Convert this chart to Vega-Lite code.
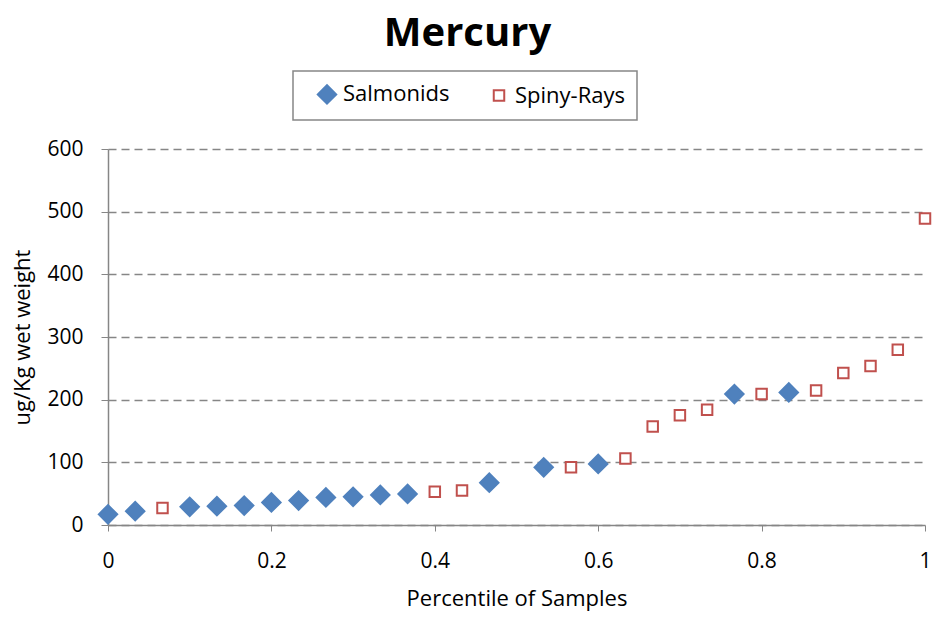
{
  "$schema": "https://vega.github.io/schema/vega-lite/v6.json",
  "width": 817,
  "height": 376,
  "autosize": "none",
  "padding": {"left": 108, "top": 149, "right": 9, "bottom": 94},
  "background": "white",
  "title": {
    "text": "Mercury",
    "fontSize": 40,
    "font": "Open Sans",
    "fontWeight": "bold",
    "color": "black",
    "anchor": "middle",
    "frame": "group",
    "dx": -49,
    "offset": 16
  },
  "config": {
    "view": {"stroke": null},
    "font": "Open Sans",
    "legend": {
      "orient": "none",
      "legendX": 185,
      "legendY": -78,
      "direction": "horizontal",
      "strokeColor": "#868686",
      "strokeWidth": 1.5,
      "padding": 12,
      "symbolOffset": 11,
      "labelFontSize": 22,
      "labelFont": "Open Sans",
      "labelColor": "black",
      "columnPadding": 27,
      "symbolOpacity": 1,
      "symbolStrokeWidth": 2,
      "labelOffset": 5
    }
  },
  "data": {
    "values": [
      {"p": 0.0, "v": 17, "s": "Salmonids"},
      {"p": 0.0333, "v": 22, "s": "Salmonids"},
      {"p": 0.0667, "v": 27, "s": "Spiny-Rays"},
      {"p": 0.1, "v": 29, "s": "Salmonids"},
      {"p": 0.1333, "v": 30, "s": "Salmonids"},
      {"p": 0.1667, "v": 31, "s": "Salmonids"},
      {"p": 0.2, "v": 36, "s": "Salmonids"},
      {"p": 0.2333, "v": 39, "s": "Salmonids"},
      {"p": 0.2667, "v": 44, "s": "Salmonids"},
      {"p": 0.3, "v": 45, "s": "Salmonids"},
      {"p": 0.3333, "v": 48, "s": "Salmonids"},
      {"p": 0.3667, "v": 49.5, "s": "Salmonids"},
      {"p": 0.4, "v": 53, "s": "Spiny-Rays"},
      {"p": 0.4333, "v": 55, "s": "Spiny-Rays"},
      {"p": 0.4667, "v": 67.5, "s": "Salmonids"},
      {"p": 0.5333, "v": 92, "s": "Salmonids"},
      {"p": 0.5667, "v": 92, "s": "Spiny-Rays"},
      {"p": 0.6, "v": 97.5, "s": "Salmonids"},
      {"p": 0.6333, "v": 106, "s": "Spiny-Rays"},
      {"p": 0.6667, "v": 157, "s": "Spiny-Rays"},
      {"p": 0.7, "v": 175, "s": "Spiny-Rays"},
      {"p": 0.7333, "v": 184, "s": "Spiny-Rays"},
      {"p": 0.7667, "v": 209, "s": "Salmonids"},
      {"p": 0.8, "v": 209, "s": "Spiny-Rays"},
      {"p": 0.8333, "v": 211.5, "s": "Salmonids"},
      {"p": 0.8667, "v": 214.5, "s": "Spiny-Rays"},
      {"p": 0.9, "v": 242.5, "s": "Spiny-Rays"},
      {"p": 0.9333, "v": 253.7, "s": "Spiny-Rays"},
      {"p": 0.9667, "v": 279.7, "s": "Spiny-Rays"},
      {"p": 1.0, "v": 489, "s": "Spiny-Rays"}
    ]
  },
  "mark": {"type": "point", "strokeWidth": 2, "opacity": 1},
  "encoding": {
    "x": {
      "field": "p",
      "type": "quantitative",
      "scale": {"domain": [0, 1], "nice": false, "zero": false},
      "axis": {
        "values": [0, 0.2, 0.4, 0.6, 0.8, 1],
        "format": "~g",
        "title": "Percentile of Samples",
        "titleFontSize": 22,
        "titleFontWeight": "normal",
        "titleColor": "black",
        "titlePadding": 17,
        "titleFont": "Open Sans",
        "labelFontSize": 21,
        "labelColor": "black",
        "labelPadding": 19,
        "labelFont": "Open Sans",
        "labelFlush": false,
        "labelOverlap": false,
        "domainColor": "#868686",
        "domainWidth": 1.5,
        "tickColor": "#868686",
        "tickSize": 6,
        "grid": false
      }
    },
    "y": {
      "field": "v",
      "type": "quantitative",
      "scale": {"domain": [0, 600], "nice": false},
      "axis": {
        "values": [0, 100, 200, 300, 400, 500, 600],
        "title": "ug/Kg wet weight",
        "titleFontSize": 22,
        "titleFontWeight": "normal",
        "titleColor": "black",
        "titlePadding": 12,
        "titleFont": "Open Sans",
        "labelFontSize": 21,
        "labelColor": "black",
        "labelPadding": 18,
        "labelFont": "Open Sans",
        "labelFlush": false,
        "labelOverlap": false,
        "domainColor": "#868686",
        "domainWidth": 1.5,
        "tickColor": "#868686",
        "tickSize": 7,
        "grid": true,
        "gridColor": "#868686",
        "gridDash": [8, 5],
        "gridWidth": 1.5
      }
    },
    "shape": {
      "field": "s",
      "type": "nominal",
      "scale": {"domain": ["Salmonids", "Spiny-Rays"], "range": ["diamond", "square"]},
      "legend": {"title": null}
    },
    "color": {
      "field": "s",
      "type": "nominal",
      "scale": {"domain": ["Salmonids", "Spiny-Rays"], "range": ["#4F81BD", "#C0504D"]},
      "legend": {"title": null}
    },
    "fill": {
      "field": "s",
      "type": "nominal",
      "scale": {"domain": ["Salmonids", "Spiny-Rays"], "range": ["#4F81BD", "white"]},
      "legend": {"title": null}
    },
    "size": {
      "field": "s",
      "type": "nominal",
      "scale": {"domain": ["Salmonids", "Spiny-Rays"], "range": [340, 110]},
      "legend": {"title": null}
    }
  }
}
